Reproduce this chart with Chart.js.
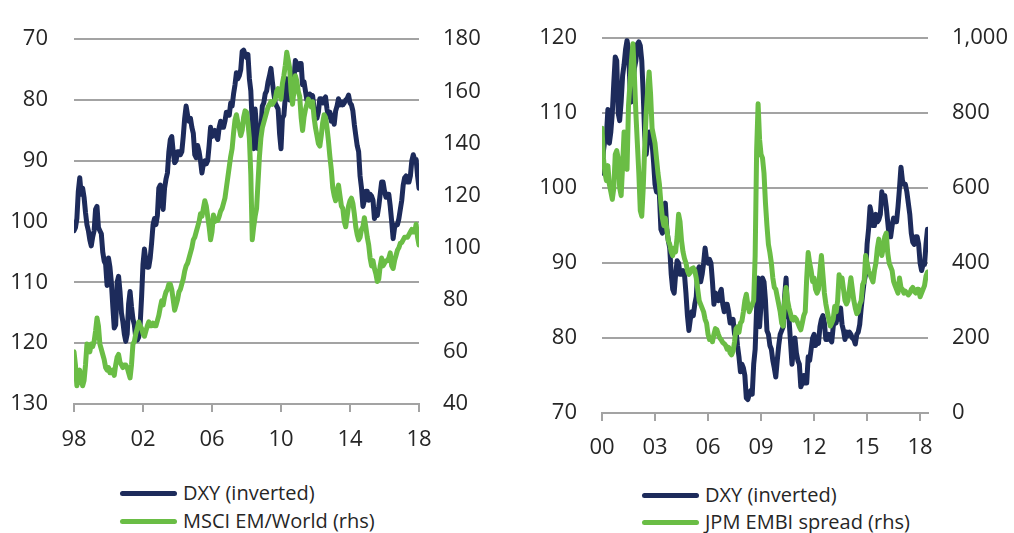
<!DOCTYPE html>
<html><head><meta charset="utf-8">
<script src="https://cdn.jsdelivr.net/npm/chart.js@4"></script>
<style>
html,body{margin:0;padding:0;background:#fff;width:1014px;height:533px;overflow:hidden;font-family:'Open Sans',sans-serif;}
.wrap{position:absolute;top:0;}
#w1{left:0;width:507px;height:470px;}
#w2{left:507px;width:507px;height:480px;}
.legend{position:absolute;font-size:20px;color:#262626;}
.row{position:absolute;left:0;display:flex;align-items:center;height:28px;line-height:28px;white-space:nowrap;}
.sw{display:inline-block;width:57px;height:5px;border-radius:3px;margin-right:6px;}
</style></head>
<body>
<div class="wrap" id="w1"><canvas id="c1" width="507" height="470"></canvas></div>
<div class="wrap" id="w2"><canvas id="c2" width="507" height="480"></canvas></div>
<div class="legend" id="lg1" style="left:120px;top:0;"></div>
<div class="legend" id="lg2" style="left:642px;top:0;"></div>
<script>
// ---- data (monthly) ----
const dxyStart = [1998, 6];          // first month of DXY / MSCI series
const embiStart = [2000, 1];         // first month of EMBI series
const dxy = [
101.5,101.0,99.5,95.0,92.8,95.5,94.5,
96.0,98.5,100.5,101.5,103.0,104.0,102.5,101.5,98.0,97.5,101.0,101.5,
102.0,105.0,106.5,107.0,110.5,106.0,107.5,110.0,114.0,117.5,117.0,110.0,
109.0,111.5,115.0,116.5,118.5,119.7,118.5,113.5,111.5,114.0,116.0,117.0,
119.2,119.5,119.0,117.0,112.5,107.0,104.5,106.5,107.5,107.5,106.0,103.5,
100.5,99.5,100.5,99.0,94.5,94.0,96.5,98.0,94.5,93.0,92.0,88.5,
86.5,86.0,88.5,90.3,90.0,88.5,88.5,89.0,88.5,86.0,83.0,81.0,
82.5,83.5,83.0,84.5,85.5,89.0,89.5,87.5,88.5,90.0,92.0,90.5,
90.0,90.5,90.0,87.5,84.5,86.0,85.5,85.0,86.0,86.5,84.5,83.5,
84.5,84.5,83.5,82.0,82.0,82.5,80.5,81.0,79.0,77.5,75.5,76.5,
76.0,75.0,72.0,71.8,72.5,73.0,72.5,76.5,78.5,84.0,88.0,81.5,
84.5,88.0,87.5,85.0,81.0,80.5,79.0,78.5,77.0,76.0,74.8,77.0,
79.0,80.5,81.0,81.5,85.5,88.0,83.0,82.5,79.5,76.5,78.5,80.0,
78.0,77.0,76.5,73.5,74.0,75.0,74.0,74.0,77.5,77.0,78.5,80.0,
80.5,79.0,79.5,79.3,81.5,82.5,83.0,82.0,79.8,79.8,80.5,79.8,
79.5,81.5,82.8,82.0,83.5,82.5,84.0,81.8,81.0,79.8,80.8,80.3,
80.8,80.5,80.0,79.8,79.2,80.5,80.8,81.8,84.0,85.8,87.5,88.5,
92.5,94.5,97.5,96.5,95.0,95.0,96.5,95.5,95.8,96.5,99.5,98.5,
99.0,97.5,95.5,93.5,93.5,95.0,96.0,95.5,95.5,97.5,100.0,102.8,
101.0,100.5,100.5,99.5,98.0,96.5,94.0,92.8,92.5,93.5,93.5,92.5,
90.0,89.0,89.8,89.8,92.5,94.5
];
const msciEmWorld = [
60,55,47,50,53,50,47,
49,55,63,61,60,63,62,64,68,73,70,63,
61,59,57,54,53,54,52,52,53,51,55,58,
59,56,55,54,55,55,54,52,50,55,63,64,
67,69,71.5,70,69,67,66,68,70,71.5,70,70,
71,70,70,72,74,77,79.6,78,81,83,84,86,
86,84,80,76,78,80,83,84,86,88,91,93,
94,96,98,100,103,104,106,108,110,113,112,115,
118,116,112,108,103,106,112.5,110,111,110.5,112,114,
115,117,119,123,127,131,135,138,144,149,151,148,
146,143,145,150,152.5,152,148,142,128,103,108,112,
115,125,135,142,146,148,150,152,154,155,156,155,
156,157,160,161,159,157,163,166,170,175,172,169,
160,155,160,166,164,160,158,150,145,150,153,155,
157,156,154,156,150,146,143,140,139,143,148,151,
150,146,141,135,130,123,120,118,122,124,120,116,
115,110,108,112,116,118,119,117,113,108,105,103,
104,107,108,111.5,108,104,101,96,93,95,92,90,
87,88,93,96,93,94,95,95,96,98,93,92,
95,97,99,100,101.7,102,103,104,104,104,105,106,
107,106,106,109,104,101
];
const embiSpread = [
760,680,640,620,660,610,590,570,600,690,700,680,
600,580,660,750,700,650,820,880,940,985,900,800,
720,640,540,525,600,710,800,860,910,850,760,740,
720,680,640,610,560,520,500,520,490,460,450,430,
420,440,430,470,530,510,460,430,412,400,380,370,
375,385,387,380,360,330,300,290,280,270,250,240,
210,196,200,190,210,225,222,210,200,195,188,185,
180,170,175,160,155,165,190,225,230,215,240,245,
270,300,317,290,270,280,290,300,420,700,825,730,
690,680,640,560,500,450,428,400,360,335,330,310,
290,270,240,232,300,335,300,280,265,250,248,255,
250,240,230,222,240,260,270,360,428,400,380,351,
360,330,320,330,380,420,370,320,291,270,250,232,
240,250,284,270,300,369,340,360,330,300,291,300,
330,361,330,300,280,265,270,290,300,343,350,420,
400,380,369,360,350,380,400,440,464,440,420,440,
470,480,428,400,390,380,351,340,330,320,360,335,
330,320,325,320,315,320,330,335,325,320,330,330,
310,320,330,340,365,376
];
const leftTickLabels = ['98','02','06','10','14','18'];
const rightTickLabels = ['00','03','06','09','12','15','18'];
const leftSeriesNames = ['DXY (inverted)', 'MSCI EM/World (rhs)'];
const rightSeriesNames = ['DXY (inverted)', 'JPM EMBI spread (rhs)'];

// ---- helpers ----
const NAVY = '#1d2b5b', GREEN = '#6abd45', GRID = '#a3a3a3', TXT = '#262626';
function toPoints(arr, start) {
  return arr.map((v, i) => ({ x: start[0] + (start[1] - 1 + i) / 12, y: v }));
}
Chart.defaults.font.family = "'Open Sans', sans-serif";
Chart.defaults.font.size = 22;
Chart.defaults.color = TXT;

const dxyPts = toPoints(dxy, dxyStart);
const msciPts = toPoints(msciEmWorld, dxyStart);
const embiPts = toPoints(embiSpread, embiStart);
const dxyPts2 = dxyPts.filter(p => p.x >= embiStart[0] + (embiStart[1] - 1) / 12 - 1e-9);

function lineDs(label, data, color, axis, order) {
  return { label, data, borderColor: color, backgroundColor: color, borderWidth: 5,
    pointRadius: 0, tension: 0, yAxisID: axis, order, borderJoinStyle: 'round', borderCapStyle: 'round' };
}

function makeChart(id, cfg) {
  const xMin = cfg.xMin, xMax = cfg.xMax;
  return new Chart(document.getElementById(id), {
    type: 'line',
    data: { datasets: cfg.datasets },
    options: {
      responsive: false, animation: false, events: [],
      layout: { padding: { top: 25, left: 0, right: 0, bottom: 0 } },
      plugins: { legend: { display: false }, tooltip: { enabled: false } },
      scales: {
        x: {
          type: 'linear', min: xMin, max: xMax,
          afterBuildTicks: s => { s.ticks = cfg.xLabels.map((_, i) => ({ value: xMin + cfg.xStep * i })); },
          afterFit: s => { s.height = cfg.xHeight; },
          ticks: { autoSkip: false, maxRotation: 0, padding: cfg.xPad, callback: (v, i) => cfg.xLabels[i] },
          grid: { drawOnChartArea: false, drawTicks: true, tickLength: 8, color: GRID, lineWidth: 2 },
          border: { display: true, color: GRID, width: 2 }
        },
        y: {
          position: 'left', reverse: cfg.yReverse, min: cfg.yMin, max: cfg.yMax,
          afterBuildTicks: s => { const t = []; for (let v = cfg.yMin; v <= cfg.yMax; v += cfg.yStep) t.push({ value: v }); s.ticks = t; },
          afterFit: s => { s.width = cfg.yWidth; },
          ticks: { padding: cfg.yPad },
          grid: { drawTicks: false, color: GRID, lineWidth: 2 },
          border: { display: false }
        },
        y1: {
          position: 'right', min: cfg.y1Min, max: cfg.y1Max,
          afterBuildTicks: s => { const t = []; for (let v = cfg.y1Min; v <= cfg.y1Max; v += cfg.y1Step) t.push({ value: v }); s.ticks = t; },
          afterFit: s => { s.width = cfg.y1Width; },
          ticks: { padding: cfg.y1Pad, callback: v => v.toLocaleString('en-US') },
          grid: { display: false, drawTicks: false },
          border: { display: false }
        }
      }
    }
  });
}

makeChart('c1', {
  datasets: [lineDs(leftSeriesNames[0], dxyPts, NAVY, 'y', 1), lineDs(leftSeriesNames[1], msciPts, GREEN, 'y1', 0)],
  xMin: dxyPts[0].x, xMax: dxyPts[dxyPts.length - 1].x, xStep: 4, xLabels: leftTickLabels, xHeight: 66, xPad: 15,
  yMin: 70, yMax: 130, yStep: 10, yReverse: true, yWidth: 74, yPad: 26,
  y1Min: 40, y1Max: 180, y1Step: 20, y1Width: 88, y1Pad: 24
});
makeChart('c2', {
  datasets: [lineDs(rightSeriesNames[0], dxyPts2, NAVY, 'y', 1), lineDs(rightSeriesNames[1], embiPts, GREEN, 'y1', 0)],
  xMin: embiPts[0].x, xMax: embiPts[embiPts.length - 1].x + 0.03, xStep: 3, xLabels: rightTickLabels, xHeight: 67, xPad: 14,
  yMin: 70, yMax: 120, yStep: 10, yReverse: false, yWidth: 95, yPad: 25,
  y1Min: 0, y1Max: 1000, y1Step: 200, y1Width: 86, y1Pad: 24
});

function legend(id, names, centers) {
  const el = document.getElementById(id);
  [NAVY, GREEN].forEach((c, i) => {
    const r = document.createElement('div'); r.className = 'row';
    r.style.top = (centers[i] - 14) + 'px';
    const s = document.createElement('span'); s.className = 'sw'; s.style.background = c;
    const t = document.createElement('span'); t.textContent = names[i];
    r.appendChild(s); r.appendChild(t); el.appendChild(r);
  });
}
legend('lg1', leftSeriesNames, [493, 521]);
legend('lg2', rightSeriesNames, [495, 522]);
</script>
</body></html>
